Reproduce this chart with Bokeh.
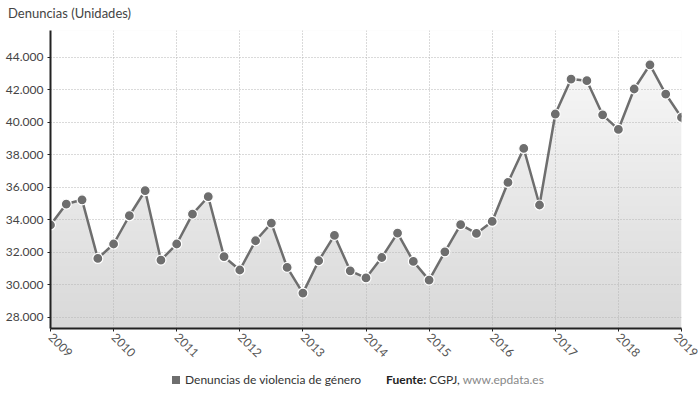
import numpy as np
from bokeh.plotting import figure
from bokeh.models import Range1d, FixedTicker, Div
from bokeh.layouts import column
from bokeh.embed import file_html
from bokeh.resources import INLINE

# Denuncias trimestrales por violencia de género, 2009 T1 – 2019 T1
periodos = [f"{a}-T{t}" for a in range(2009, 2019) for t in range(1, 5)] + ["2019-T1"]
denuncias = [33690, 34980, 35240, 31630, 32520, 34260, 35800, 31530,
             32520, 34360, 35430, 31740, 30920, 32720, 33810, 31080,
             29500, 31490, 33050, 30870, 30430, 31690, 33190, 31450,
             30300, 32040, 33710, 33170, 33910, 36310, 38400, 34920,
             40520, 42670, 42570, 40470, 39570, 42060, 43550, 41750, 40310]
anios_eje = list(range(2009, 2020))
valores_eje = list(range(28000, 44001, 2000))

titulo = "Denuncias (Unidades)"
serie = "Denuncias de violencia de género"
fuente = ["Fuente:", "CGPJ,", "www.epdata.es"]

FONT = "Lato"
GRIS = "#6e6e6e"

# decimal-year position of each quarter
x = [int(p[:4]) + (int(p[-1]) - 1) / 4 for p in periodos]

cabecera = Div(text=titulo, width=698, height=24,
               styles={"font-family": FONT, "font-size": "13px", "color": "#444444",
                       "padding-left": "8px", "line-height": "26px", "margin": "0"})

y0, y1 = 27320, 45660
p = figure(width=698, height=340, output_backend="svg", toolbar_location=None,
           x_range=Range1d(2009, 2019), y_range=Range1d(y0, y1),
           min_border_left=50, min_border_right=17, min_border_top=6,
           min_border_bottom=36)
p.outline_line_color = None
p.background_fill_color = "white"

# soft vertical gradient under the series
n = 256
g = np.linspace(0xd9, 0xfb, n).astype(np.uint8)
img = np.empty((n, 1), dtype=np.uint32)
v = img.view(dtype=np.uint8).reshape((n, 1, 4))
v[:, 0, 0] = g
v[:, 0, 1] = g
v[:, 0, 2] = g
v[:, 0, 3] = 255
p.image_rgba(image=[img], x=2009, y=y0, dw=10, dh=y1 - y0, level="image")
# white above the line so only the area below keeps the gradient
p.varea(x=x, y1=denuncias, y2=y1, fill_color="white", level="image")

p.line(x, denuncias, line_color=GRIS, line_width=2.5)
p.scatter(x, denuncias, size=10, fill_color=GRIS, line_color="white", line_width=1.2)

# grids
for grid, ticks in ((p.xgrid, anios_eje), (p.ygrid, valores_eje)):
    grid.ticker = FixedTicker(ticks=ticks)
    grid.grid_line_color = "#b4b4b4"
    grid.grid_line_dash = "1 2"
    grid.grid_line_width = 1

# axes
p.xaxis.ticker = FixedTicker(ticks=anios_eje)
p.xaxis.major_label_overrides = {a: str(a) for a in anios_eje}
p.xaxis.major_label_orientation = -np.pi / 4
p.xaxis.major_label_standoff = 4
p.xaxis.major_label_text_color = "#555555"

p.yaxis.ticker = FixedTicker(ticks=valores_eje)
p.yaxis.major_label_overrides = {vv: f"{vv:,}".replace(",", ".") for vv in valores_eje}
p.yaxis.major_label_standoff = 4
p.yaxis.major_label_text_color = "#444444"

for ax in (p.xaxis[0], p.yaxis[0]):
    ax.axis_line_color = "#222222"
    ax.axis_line_width = 2
    ax.major_tick_line_color = "#222222"
    ax.major_tick_out = 3
    ax.major_tick_in = 0
    ax.minor_tick_line_color = None
    ax.major_label_text_font = FONT
    ax.major_label_text_font_size = "12px"

# legend and source line
pie_html = (
    f'<span style="display:inline-block;width:8px;height:8px;background:{GRIS};'
    f'margin-right:5px;vertical-align:0px"></span>{serie}'
    f'<span style="margin-left:25px;color:#222222;font-weight:bold">{fuente[0]}</span> '
    f'<span style="color:#333333">{fuente[1]}</span> '
    f'<span style="color:#888888">{fuente[2]}</span>'
)
pie = Div(text=pie_html, width=698, height=32,
          styles={"font-family": FONT, "font-size": "12px", "color": "#333333",
                  "padding-left": "172px", "line-height": "32px", "margin": "0",
                  "white-space": "nowrap"})

layout = column(cabecera, p, pie, spacing=0)
open("out.html", "w").write(file_html(layout, INLINE))
